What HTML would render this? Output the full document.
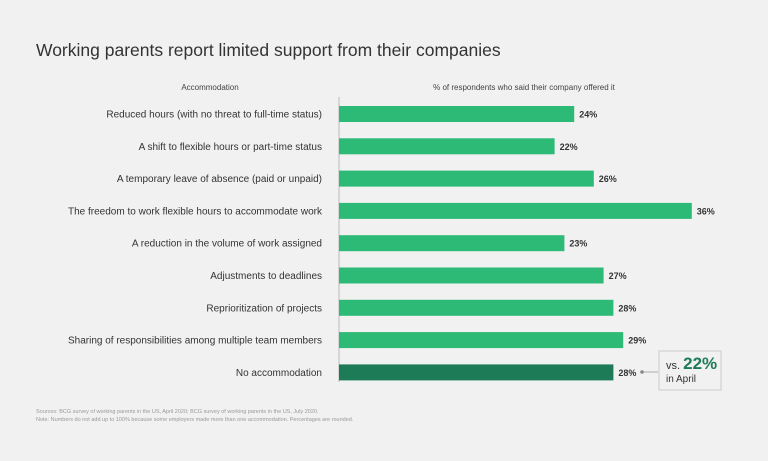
<!DOCTYPE html>
<html><head><meta charset="utf-8"><style>
body{margin:0;width:768px;height:456px;background:#f1f1f1;font-family:"Liberation Sans",sans-serif;overflow:hidden}
</style></head><body>
<svg width="768" height="456">
<text x="36" y="56" font-size="17.5" fill="#333">Working parents report limited support from their companies</text>
<text x="210" y="90" font-size="8" fill="#444" text-anchor="middle">Accommodation</text>
<text x="524" y="90" font-size="8" fill="#444" text-anchor="middle">% of respondents who said their company offered it</text>
<line x1="339" y1="97" x2="339" y2="382" stroke="#bbb" stroke-width="1"/>
<g id="bars"></g>
<line x1="642" y1="372" x2="658" y2="372" stroke="#aaa"/>
<circle cx="642" cy="372" r="1.8" fill="#888"/>
<rect x="659" y="351" width="62" height="39" fill="#f1f1f1" stroke="#ccc"/>
<text x="666" y="369" font-size="11" fill="#333">vs. <tspan font-size="17" font-weight="bold" fill="#1e7b58">22%</tspan></text>
<text x="666" y="382" font-size="10" fill="#333">in April</text>
<text x="36" y="413" font-size="5.5" fill="#999">Sources: BCG survey of working parents in the US, April 2020; BCG survey of working parents in the US, July 2020.</text>
<text x="36" y="421" font-size="5.5" fill="#999">Note: Numbers do not add up to 100% because some employers made more than one accommodation. Percentages are rounded.</text>
</svg>
<script>
const categories=["Reduced hours (with no threat to full-time status)","A shift to flexible hours or part-time status","A temporary leave of absence (paid or unpaid)","The freedom to work flexible hours to accommodate work","A reduction in the volume of work assigned","Adjustments to deadlines","Reprioritization of projects","Sharing of responsibilities among multiple team members","No accommodation"];
const values=[24,22,26,36,23,27,28,29,28];
const x=v=>339+v*9.8;
const y=i=>114+i*32.3;
const g=document.getElementById('bars');
const NS="http://www.w3.org/2000/svg";
categories.forEach((c,i)=>{
  const r=document.createElementNS(NS,'rect');
  r.setAttribute('x',339);r.setAttribute('y',y(i)-8);
  r.setAttribute('width',x(values[i])-339);r.setAttribute('height',16);
  r.setAttribute('fill',i===categories.length-1?'#1e7b58':'#2dba76');
  
  
  g.appendChild(r);
  const t=document.createElementNS(NS,'text');
  t.setAttribute('x',322);t.setAttribute('y',y(i)+3.5);
  t.setAttribute('text-anchor','end');t.setAttribute('font-size','10');t.setAttribute('fill','#333');
  t.textContent=c;
  
  
  g.appendChild(t);
  const v=document.createElementNS(NS,'text');
  v.setAttribute('x',x(values[i])+5);v.setAttribute('y',y(i)+3.5);
  v.setAttribute('font-size','9');v.setAttribute('font-weight','bold');v.setAttribute('fill','#333');
  v.textContent=values[i]+'%';
  
  
  g.appendChild(v);
});
</script>
</body></html>
